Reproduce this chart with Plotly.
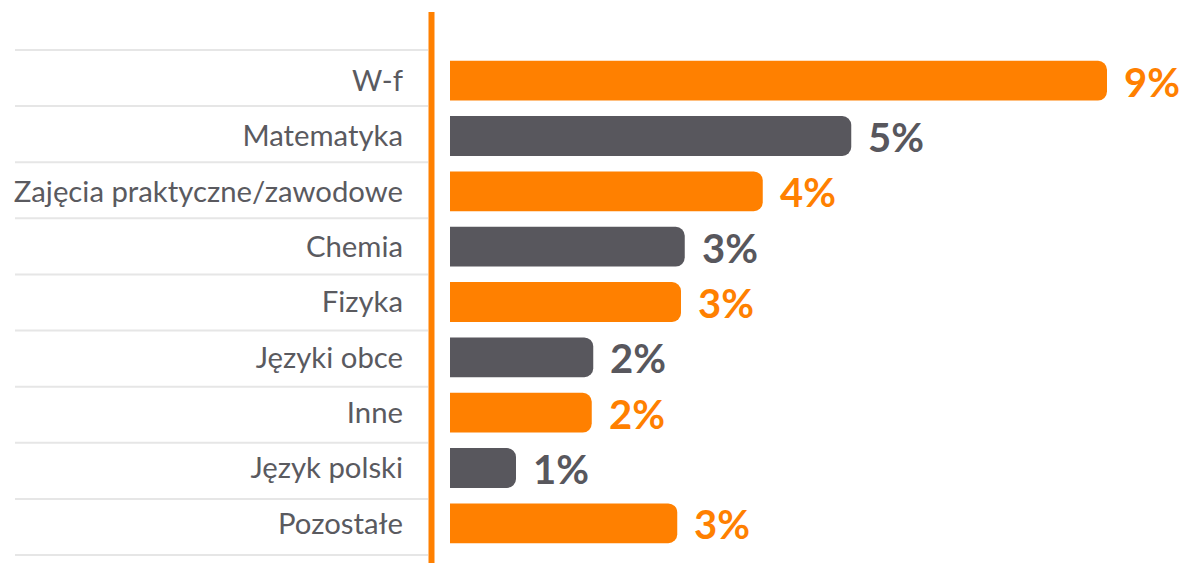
import plotly.graph_objects as go

categories = ["W-f", "Matematyka", "Zajęcia praktyczne/zawodowe", "Chemia", "Fizyka",
              "Języki obce", "Inne", "Język polski", "Pozostałe"]
values = [8.76, 5.35, 4.17, 3.13, 3.08, 1.91, 1.89, 0.88, 3.03]
labels = ["9%", "5%", "4%", "3%", "3%", "2%", "2%", "1%", "3%"]

ORANGE = "#FF8000"
GRAY = "#58575D"
colors = [ORANGE if i % 2 == 0 else GRAY for i in range(len(categories))]

# page is rendered with an 8px body margin, so figure coords = page coords - 8
OFF = 8
W, H = 1192, 563
L, T = 450 - OFF, 53 - OFF
B = H - (551 - OFF)
PW = W - L
PH = H - T - B

def px_x(px):
    return (px - OFF - L) / PW

def px_y(py):
    return 1 - (py - OFF - T) / PH

fig = go.Figure()
fig.add_trace(go.Bar(
    y=categories, x=values, orientation="h",
    marker=dict(color=colors, cornerradius=9, line=dict(width=0)),
    width=0.72, hoverinfo="skip",
))

annotations = []
for c, v, lab, col in zip(categories, values, labels, colors):
    annotations.append(dict(
        x=v, y=c, xref="x", yref="y", text=lab, showarrow=False,
        xanchor="left", yanchor="middle", xshift=15, yshift=-1,
        font=dict(family="Lato", size=40, color=col, weight="bold"),
    ))

shapes = []
n = len(categories)
top_sep, bot_sep = 50, 555
for i in range(n + 1):
    py = top_sep + (bot_sep - top_sep) * i / n
    shapes.append(dict(type="line", xref="paper", yref="paper",
                       x0=px_x(15), x1=px_x(428), y0=px_y(py), y1=px_y(py),
                       line=dict(color="#E6E6E6", width=2), layer="below"))
shapes.append(dict(type="line", xref="paper", yref="paper",
                   x0=px_x(431.5), x1=px_x(431.5), y0=px_y(12), y1=px_y(580),
                   line=dict(color=ORANGE, width=6)))

fig.update_layout(
    width=W, height=H,
    margin=dict(l=L, r=0, t=T, b=B, pad=0),
    paper_bgcolor="white", plot_bgcolor="white",
    showlegend=False,
    xaxis=dict(range=[0, PW / 75.0], visible=False, fixedrange=True),
    yaxis=dict(autorange="reversed", showgrid=False, zeroline=False, showline=False,
               ticks="", ticklabelstandoff=46,
               tickfont=dict(family="Lato", size=29.3, color="#5A5A5F")),
    annotations=annotations, shapes=shapes,
)

fig.write_html("out.html", config={"displayModeBar": False})
